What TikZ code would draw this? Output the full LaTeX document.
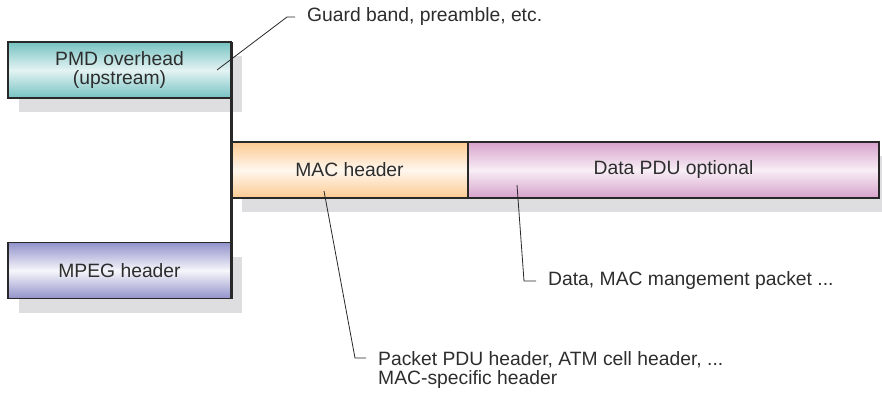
\documentclass[tikz,border=0pt]{standalone}
\usepackage{fontspec}
\setmainfont{Liberation Sans}
\usetikzlibrary{positioning, shadows}

\definecolor{boxline}{RGB}{40,40,40}
\definecolor{txt}{RGB}{45,45,45}
\definecolor{shade}{RGB}{222,222,224}
\definecolor{pmdedge}{RGB}{118,194,194}
\definecolor{pmdmid}{RGB}{228,243,243}
\definecolor{mpegedge}{RGB}{146,146,203}
\definecolor{mpegmid}{RGB}{246,246,251}
\definecolor{macedge}{RGB}{253,202,146}
\definecolor{macmid}{RGB}{255,247,238}
\definecolor{dataedge}{RGB}{215,162,203}
\definecolor{datamid}{RGB}{248,238,246}

\newcommand{\labelfont}{\fontsize{19.3}{18.5}\selectfont}

\tikzset{
  box/.style={draw=boxline, line width=1.3pt, outer sep=0pt, inner sep=0pt,
    text=txt, align=center, font=\labelfont, minimum height=56pt,
    drop shadow={shadow xshift=11pt, shadow yshift=-14pt, fill=shade, opacity=1}},
  pmdbox/.style={box, top color=pmdedge, bottom color=pmdedge, middle color=pmdmid, minimum width=223pt},
  mpegbox/.style={box, top color=mpegedge, bottom color=mpegedge, middle color=mpegmid, minimum width=223pt},
  macbox/.style={box, top color=macedge, bottom color=macedge, middle color=macmid, minimum width=237pt},
  databox/.style={box, top color=dataedge, bottom color=dataedge, middle color=datamid, minimum width=411pt},
  note/.style={anchor=west, inner xsep=12pt, inner ysep=0pt, text=txt, align=left, font=\labelfont},
  leader/.style={draw=boxline, line width=0.8pt},
  spine/.style={draw=boxline, line width=3pt}
}

\begin{document}
\begin{tikzpicture}[x=1pt, y=-1pt]
    \useasboundingbox (0,0) rectangle (882,394);

    % Overhead blocks on the left
    \node[pmdbox] (pmd) at (119.5,70) {PMD overhead\\(upstream)};
    \node[mpegbox] (mpeg) at (119.5,270.5) {MPEG header};

    % Frame bar
    \node[macbox] (mac) at (349.5,170) {MAC header};
    \node[databox, right=0pt of mac] (data) {Data PDU optional};

    % Spine joining the blocks
    \draw[spine] (pmd.north east) -- (mpeg.south east);

    % Notes
    \node[note] (guard) at (295,17) {Guard band, preamble, etc.};
    \node[note] (datanote) at (536,281) {Data, MAC mangement packet ...};
    \node[note] (packet) at (366,370) {Packet PDU header, ATM cell header, ...\\MAC-specific header};

    % Leader lines
    \coordinate (guardfoot) at (217,70);
    \coordinate (datafoot) at (517,185);
    \coordinate (macfoot) at (324,191);
    \draw[leader] (guardfoot) -- ([xshift=-8pt]guard.west) -- (guard.west);
    \draw[leader] (datafoot) -- ([xshift=-12pt]datanote.west) -- (datanote.west);
    \draw[leader] (macfoot) -- ([xshift=-11pt, yshift=12pt]packet.west) -- ([yshift=12pt]packet.west);
\end{tikzpicture}
\end{document}
